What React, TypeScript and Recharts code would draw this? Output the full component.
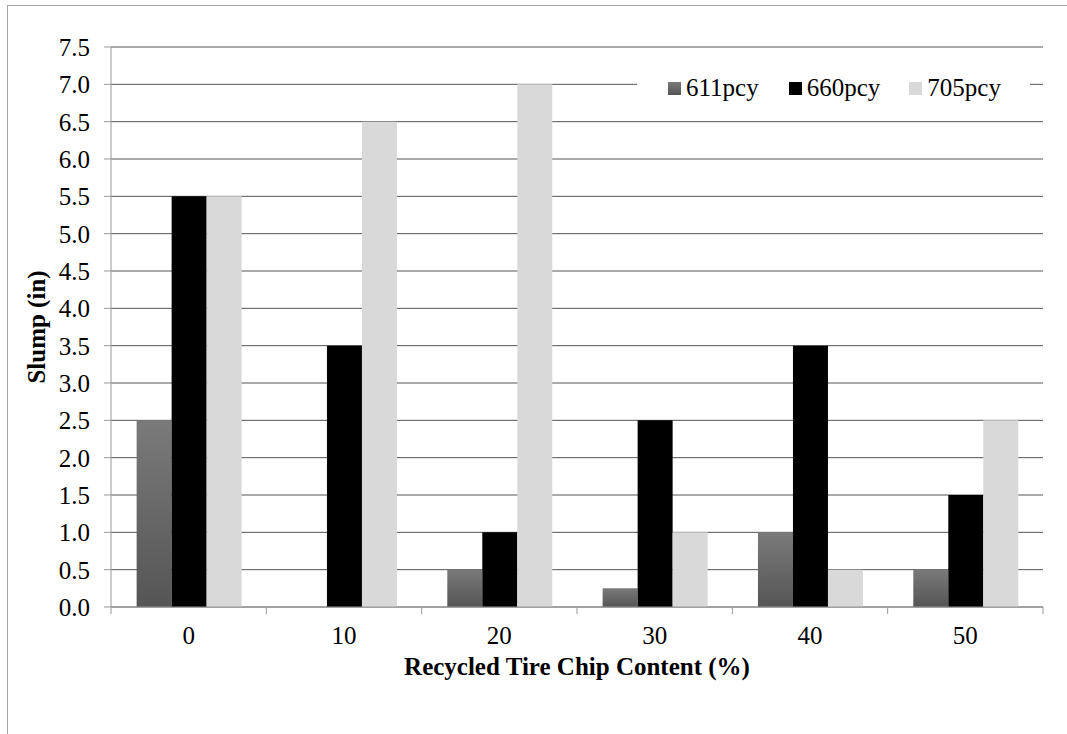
import React from 'react';
import { BarChart, Bar, XAxis, YAxis, CartesianGrid, Legend, Label } from 'recharts';

const categories = ['0', '10', '20', '30', '40', '50'];
const s611 = [2.5, 0, 0.5, 0.25, 1.0, 0.5];
const s660 = [5.5, 3.5, 1.0, 2.5, 3.5, 1.5];
const s705 = [5.5, 6.5, 7.0, 1.0, 0.5, 2.5];
const yTicks = [0, 0.5, 1, 1.5, 2, 2.5, 3, 3.5, 4, 4.5, 5, 5.5, 6, 6.5, 7, 7.5];

const data = categories.map((c, i) => ({ cat: c, p611: s611[i], p660: s660[i], p705: s705[i] }));

const W = 1067;
const H = 734;
const MARGIN = { top: 47, right: 24, bottom: 57, left: 31 };
const Y_AXIS_W = 80;
const X_AXIS_H = 70;
const PLOT_W = W - MARGIN.left - MARGIN.right - Y_AXIS_W;
const FONT = '"Liberation Serif", "Times New Roman", serif';
const FS = 25;

const XTick = (props: any) => {
  const { x, y, payload, index } = props;
  const band = PLOT_W / categories.length;
  return (
    <g>
      <line x1={x - band / 2} x2={x - band / 2} y1={y - 7} y2={y} stroke="#999" strokeWidth={1} />
      {index === categories.length - 1 && (
        <line x1={x + band / 2} x2={x + band / 2} y1={y - 7} y2={y} stroke="#999" strokeWidth={1} />
      )}
      <text x={x} y={y + 30} textAnchor="middle" fill="#000" fontSize={FS} fontFamily={FONT}>
        {payload.value}
      </text>
    </g>
  );
};

const legendItems = [
  { label: '611pcy', swatch: 'linear-gradient(#7a7a7a, #555555)' },
  { label: '660pcy', swatch: '#000000' },
  { label: '705pcy', swatch: '#d9d9d9' },
];

const LegendContent = () => (
  <div style={{ display: 'flex', alignItems: 'center', height: 32, paddingLeft: 31, fontFamily: FONT, fontSize: FS, color: '#000', lineHeight: '32px' }}>
    {legendItems.map((it) => (
      <div key={it.label} style={{ display: 'flex', alignItems: 'center', width: 123 }}>
        <span style={{ display: 'inline-block', width: 13, height: 13, background: it.swatch, marginRight: 5 }} />
        <span>{it.label}</span>
      </div>
    ))}
  </div>
);

export default function App() {
  return (
    <div style={{ position: 'absolute', left: 0, top: 0, width: W, height: H, background: '#fff' }}>
      <div style={{ position: 'absolute', left: 7, top: 5, width: W, height: H, borderLeft: '1px solid #a6a6a6', borderTop: '1px solid #a6a6a6' }} />
      <div style={{ position: 'absolute', left: 0, top: 0 }}>
        <BarChart width={W} height={H} data={data} margin={MARGIN} barGap={0} barCategoryGap="16.5%">
          <defs>
            <linearGradient id="grad611" x1="0" y1="0" x2="0" y2="1">
              <stop offset="0%" stopColor="#7a7a7a" />
              <stop offset="100%" stopColor="#555555" />
            </linearGradient>
          </defs>
          <CartesianGrid vertical={false} stroke="#555" strokeWidth={1} />
          <XAxis
            dataKey="cat"
            height={X_AXIS_H}
            stroke="#999"
            tickLine={false}
            tickSize={7}
            tickMargin={0}
            tick={<XTick />}
            interval={0}
          >
            <Label
              value="Recycled Tire Chip Content (%)"
              position="insideBottom"
              offset={2}
              style={{ fontFamily: FONT, fontSize: FS, fontWeight: 'bold', fill: '#000' }}
            />
          </XAxis>
          <YAxis
            width={Y_AXIS_W}
            domain={[0, 7.5]}
            ticks={yTicks}
            interval={0}
            stroke="#999"
            tickSize={7}
            tickMargin={14}
            tickFormatter={(v: number) => v.toFixed(1)}
            tick={{ fill: '#000', fontSize: FS, fontFamily: FONT }}
          >
            <Label
              value="Slump (in)"
              angle={-90}
              position="insideLeft"
              offset={5}
              style={{ fontFamily: FONT, fontSize: FS, fontWeight: 'bold', fill: '#000', textAnchor: 'middle' }}
            />
          </YAxis>
          <Legend
            layout="vertical"
            align="center"
            verticalAlign="middle"
            content={<LegendContent />}
            wrapperStyle={{ top: 72, left: 637, width: 393, height: 32, background: '#fff' }}
          />
          <Bar dataKey="p611" name="611pcy" fill="url(#grad611)" isAnimationActive={false} />
          <Bar dataKey="p660" name="660pcy" fill="#000000" isAnimationActive={false} />
          <Bar dataKey="p705" name="705pcy" fill="#d9d9d9" isAnimationActive={false} />
        </BarChart>
      </div>
    </div>
  );
}
